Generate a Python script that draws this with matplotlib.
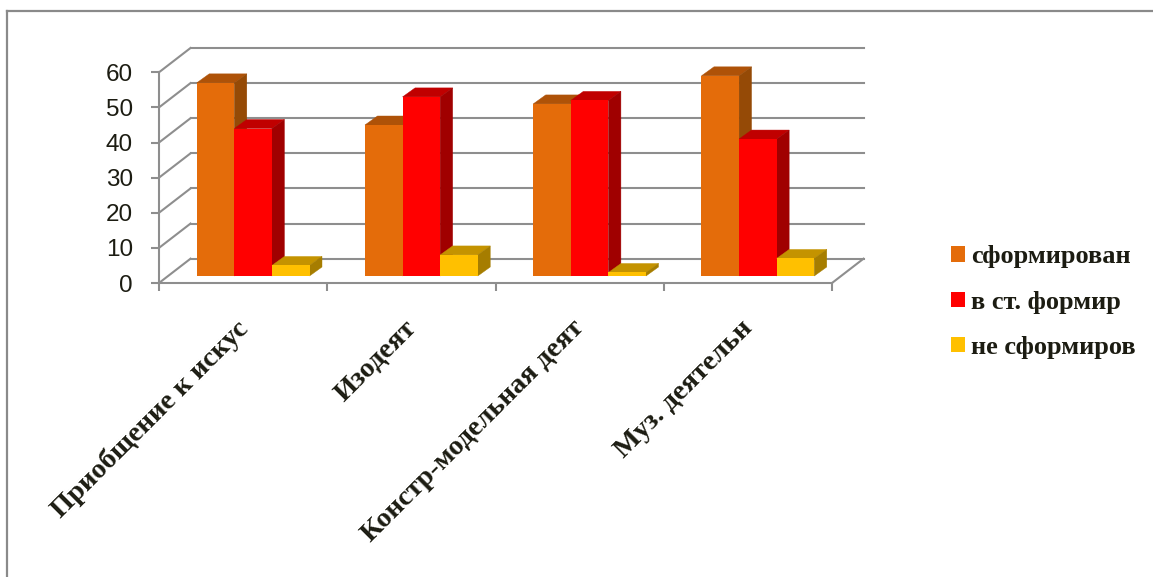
import matplotlib
matplotlib.use("Agg")
import matplotlib.pyplot as plt
from matplotlib.lines import Line2D
from matplotlib.patches import Patch, Polygon
import numpy as np

# --- data ---
categories = ["Приобщение к искус", "Изодеят", "Констр-модельная деят", "Муз. деятельн"]
series_names = ["сформирован", "в ст. формир", "не сформиров"]
formed = [55, 43, 49, 57]
partly = [42, 51, 50, 39]
not_formed = [3, 6, 1, 5]
y_ticks = [0, 10, 20, 30, 40, 50, 60]

# front, top, side colours of each series
FRONT = ["#E46C0A", "#FF0000", "#FFC000"]
TOP = ["#AE5208", "#C00000", "#C49300"]
SIDE = ["#954A06", "#A00000", "#A67D00"]

W, H = 1153, 577
LEFT, RIGHT, BOTTOM, TOP_PX = 159, 832, 283, 72.3
GRID = "#8E8E8E"
TEXT = "#1C1C12"
SERIF = "Liberation Serif"

fig = plt.figure(figsize=(W / 100, H / 100), dpi=100)
ax = fig.add_axes([LEFT / W, 1 - BOTTOM / H, (RIGHT - LEFT) / W, (BOTTOM - TOP_PX) / H])
ax.set_xlim(0, len(categories))
ax.set_ylim(y_ticks[0], y_ticks[-1])

# pixel sizes of the fake 3d depth, turned into data units
ux = (RIGHT - LEFT) / len(categories)
uy = (BOTTOM - TOP_PX) / y_ticks[-1]
wall_dx, wall_dy = 31.5 / ux, 24.3 / uy
bar_dx, bar_dy = 12.5 / ux, 9.0 / uy
floor_y = 7.0 / uy
bar_w = 37.6 / ux
bar_start = 37.7 / ux

# walls
for t in y_ticks:
    ax.plot([0, wall_dx], [t, t + wall_dy], color=GRID, lw=1.5, clip_on=False, zorder=1)
    ax.plot([wall_dx, len(categories) + wall_dx], [t + wall_dy, t + wall_dy],
            color=GRID, lw=1.5, clip_on=False, zorder=1)
ax.plot([len(categories), len(categories) + wall_dx], [0, wall_dy],
        color=GRID, lw=1.5, clip_on=False, zorder=1)

# bars, left to right so the later ones cover the sides of the earlier ones
z = 2
for c in range(len(categories)):
    for s, values in enumerate([formed, partly, not_formed]):
        x0 = c + bar_start + s * bar_w
        x1 = x0 + bar_w
        top = floor_y + values[c]
        ax.add_patch(Polygon([(x0, top), (x1, top), (x1 + bar_dx, top + bar_dy), (x0 + bar_dx, top + bar_dy)],
                             closed=True, fc=TOP[s], ec=TOP[s], lw=0.3, clip_on=False, zorder=z))
        ax.add_patch(Polygon([(x1, floor_y), (x1 + bar_dx, floor_y + bar_dy), (x1 + bar_dx, top + bar_dy), (x1, top)],
                             closed=True, fc=SIDE[s], ec=SIDE[s], lw=0.3, clip_on=False, zorder=z))
        ax.bar(x0, values[c], width=bar_w, bottom=floor_y, align="edge",
               color=FRONT[s], clip_on=False, zorder=z)
        z += 1

for name in ["top", "right"]:
    ax.spines[name].set_visible(False)
for name in ["left", "bottom"]:
    ax.spines[name].set_color(GRID)
    ax.spines[name].set_linewidth(1.5)
    ax.spines[name].set_zorder(50)

ax.set_yticks(y_ticks)
ax.set_yticklabels([str(t) for t in y_ticks], family="Liberation Sans", fontsize=17.5, color=TEXT)
ax.tick_params(axis="y", length=5.8, width=1.5, color=GRID, pad=13)
ax.set_xticks(range(len(categories) + 1))
ax.set_xticklabels([])
ax.tick_params(axis="x", length=5.8, width=1.5, color=GRID)

# category labels hang off the middle of each group
for c, label in enumerate(categories):
    ax.annotate(label, (c + 0.5, 0), xytext=(-8, -33), textcoords="offset pixels",
                rotation=45, rotation_mode="anchor", ha="right", va="top",
                family=SERIF, weight="bold", fontsize=20.5, color=TEXT, annotation_clip=False)

handles = [Patch(facecolor=col, edgecolor="none") for col in FRONT]
fig.legend(handles, series_names, loc="upper left", bbox_to_anchor=(951 / W, 1 - 245.5 / H),
           frameon=False, borderpad=0, borderaxespad=0,
           prop={"family": SERIF, "weight": "bold", "size": 19},
           labelcolor=TEXT, handlelength=0.53, handleheight=0.53, handletextpad=0.23, labelspacing=0.84)

# picture frame, only top and left sides are inside the crop
fig.add_artist(Line2D([6.5 / W, 6.5 / W], [0, 1 - 11 / H], color="#8A8A8A", lw=1.6))
fig.add_artist(Line2D([6.5 / W, 1], [1 - 11 / H, 1 - 11 / H], color="#8A8A8A", lw=1.6))

fig.savefig("out.png", dpi=100, facecolor="white")
